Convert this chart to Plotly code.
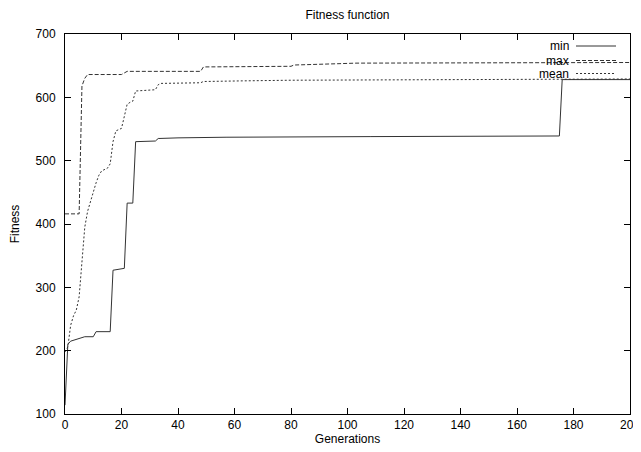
import plotly.graph_objects as go

# ---- data (generation, fitness) ----
min_gen = [0, 1, 2, 5, 6, 7, 10, 11, 16, 17, 21, 22, 24, 25, 32, 33, 40, 57, 108, 175, 176, 200]
min_fit = [114, 210, 215, 219, 220, 222, 222, 230, 230, 327, 330, 433, 433, 530, 531, 535, 536, 537, 538, 539, 628, 628]

max_gen = [0, 5, 6, 7, 8, 20, 22, 48, 49, 80, 81, 95, 96, 103, 150, 200]
max_fit = [416, 416, 618, 630, 636, 636, 641, 641, 648, 649, 651, 652, 653, 654, 655, 655]

mean_gen = [0, 1, 2, 3, 4, 5, 6, 7, 8, 9, 10, 11, 12, 13, 14, 15, 16, 17, 18, 19, 20,
            21, 22, 23, 24, 25, 32, 33, 34, 48, 49, 63, 80, 140, 200]
mean_fit = [198, 206, 240, 255, 264, 285, 340, 395, 420, 437, 450, 465, 477, 484, 486, 488, 495,
            530, 547, 549, 551, 570, 589, 592, 594, 610, 612, 620, 622, 623, 625, 626, 627, 628, 629]

x_ticks = [0, 20, 40, 60, 80, 100, 120, 140, 160, 180, 200]
y_ticks = [100, 200, 300, 400, 500, 600, 700]

series_names = ["min", "max", "mean"]
series_dash = ["solid", "4px,2px", "2px,2px"]

FONT = "Liberation Sans, Arial, Helvetica, sans-serif"
# the page body has an 8px margin, so the figure starts at (8, 8) in the window
OFF = 8
W, H = 641, 452
L, T = 65 - OFF, 34 - OFF        # plot area left/top in figure pixels
PR, PB = 630 - OFF, 414 - OFF    # plot area right/bottom in figure pixels
R, B = W - PR, H - PB
PW, PH = PR - L, PB - T

fig = go.Figure()
for name, xs, ys, dash in zip(series_names,
                              [min_gen, max_gen, mean_gen],
                              [min_fit, max_fit, mean_fit],
                              series_dash):
    fig.add_trace(go.Scatter(x=xs, y=ys, mode="lines", name=name,
                             line=dict(color="#333333", width=1, dash=dash),
                             showlegend=False))

# gnuplot-style key: right-justified text followed by a line sample
def px_x(p):
    return (p - OFF - L) / PW

def px_y(p):
    return (PB - (p - OFF)) / PH

key_rows = [46, 60.5, 73.5]
for name, dash, ry in zip(series_names, series_dash, key_rows):
    fig.add_annotation(x=px_x(571), y=px_y(ry), xref="paper", yref="paper",
                       text=name, showarrow=False, xanchor="right", yanchor="middle",
                       font=dict(family=FONT, size=12, color="#000"))
    fig.add_shape(type="line", xref="paper", yref="paper",
                  x0=px_x(576), x1=px_x(616), y0=px_y(ry), y1=px_y(ry),
                  line=dict(color="#333333", width=1, dash=dash))

axis_common = dict(showline=True, mirror="ticks", linecolor="#000", linewidth=1,
                   ticks="inside", ticklen=6, tickcolor="#000", tickwidth=1,
                   showgrid=False, zeroline=False, automargin=False,
                   tickfont=dict(family=FONT, size=12, color="#000"))

fig.update_layout(
    width=W, height=H,
    margin=dict(l=L, r=R, t=T, b=B),
    paper_bgcolor="white", plot_bgcolor="white",
    title=dict(text="Fitness function", x=(L + PW / 2) / W, xanchor="center",
               y=1 - (15 - OFF) / H, yanchor="middle", yref="container",
               font=dict(family=FONT, size=12, color="#000")),
    xaxis=dict(range=[0, 200], tickvals=x_ticks, ticktext=[str(v) for v in x_ticks],
               title=dict(text="Generations", font=dict(family=FONT, size=12, color="#000"),
                          standoff=3),
               ticklabelstandoff=0, **axis_common),
    yaxis=dict(range=[100, 700], tickvals=y_ticks, ticktext=[str(v) for v in y_ticks],
               title=dict(text="Fitness", font=dict(family=FONT, size=12, color="#000"),
                          standoff=25),
               ticklabelstandoff=6, **axis_common),
)

fig.write_html("out.html")
